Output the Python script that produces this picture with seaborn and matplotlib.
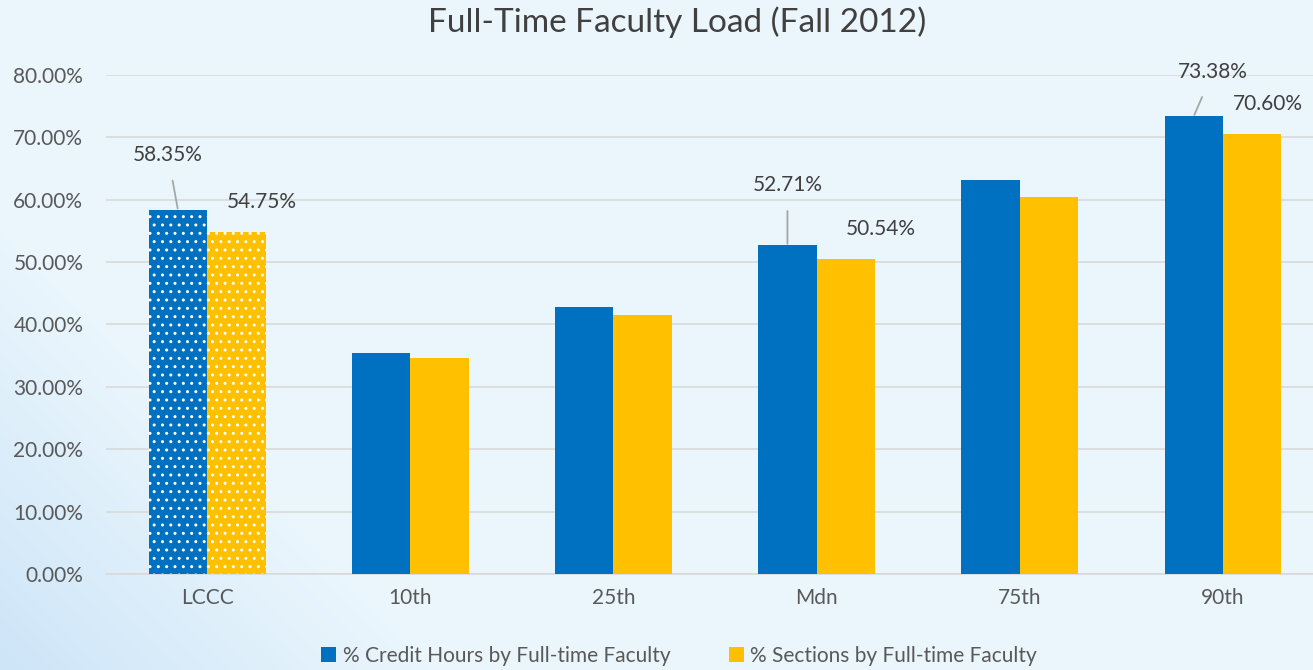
import numpy as np
import pandas as pd
import matplotlib
matplotlib.use("Agg")
import matplotlib.pyplot as plt
import seaborn as sns

categories = ["LCCC", "10th", "25th", "Mdn", "75th", "90th"]
credit_hours = [58.35, 35.5, 42.85, 52.71, 63.15, 73.38]
sections = [54.75, 34.55, 41.45, 50.54, 60.4, 70.60]
series_names = ["% Credit Hours by Full-time Faculty", "% Sections by Full-time Faculty"]
yticks = [0, 10, 20, 30, 40, 50, 60, 70, 80]

sns.set_theme(style="white")
plt.rcParams["font.family"] = ["Lato", "DejaVu Sans"]

df = pd.DataFrame({
    "cat": categories * 2,
    "val": credit_hours + sections,
    "series": [series_names[0]] * len(categories) + [series_names[1]] * len(categories),
})

fig = plt.figure(figsize=(13.13, 6.70), dpi=100)
# background
bg = fig.add_axes([0, 0, 1, 1], zorder=-10)
H, W = 335, 656
yy, xx = np.mgrid[0:H, 0:W]
base = np.array([0.925, 0.968, 0.992])
img = np.ones((H, W, 3)) * base
d = (xx / W) * 1.0 + (1 - yy / H) * 0.5
swoosh = np.clip(1 - d / 0.35, 0, 1)
img = img - swoosh[..., None] * np.array([0.12, 0.07, 0.02])
bg.imshow(img, aspect="auto", extent=[0, 1, 0, 1])
bg.axis("off")

ax = fig.add_axes([0.0804, 0.1433, 0.9284, 0.7448])
ax.set_facecolor("none")
palette = ["#0070C0", "#FFC000"]
sns.barplot(data=df, x="cat", y="val", hue="series", palette=palette,
            width=0.575, ax=ax, saturation=1, legend=True, zorder=3)

for cont in ax.containers:
    for p in cont.patches:
        p.set_linewidth(0)
    p = cont.patches[0]
    p.set_hatch("..")
    p.set_edgecolor("white")

ax.set_ylim(0, 80)
ax.set_xlim(-0.5, 5.5)
ax.set_yticks(yticks)
ax.set_yticklabels([f"{v:.2f}%" for v in yticks], fontsize=15, color="#595959")
ax.tick_params(axis="x", labelsize=15, colors="#595959", length=0, pad=10)
ax.tick_params(axis="y", length=0, pad=16)
ax.set_xlabel("")
ax.set_ylabel("")
ax.grid(axis="y", color="#D9D9D9", linewidth=1.2, zorder=0)
for s in ["top", "right", "left"]:
    ax.spines[s].set_visible(False)
ax.spines["bottom"].set_color("#D9D9D9")
ax.spines["bottom"].set_linewidth(1.2)

fig.suptitle("Full-Time Faculty Load (Fall 2012)", fontsize=24, color="#404040",
             x=677 / 1313, y=0.99)

label_specs = [
    (0, 0, (-10, 55), True),
    (1, 0, (25, 30), False),
    (0, 3, (0, 60), True),
    (1, 3, (35, 30), False),
    (0, 5, (19, 44), True),
    (1, 5, (16, 30), False),
]
for si, ci, off, line in label_specs:
    p = ax.containers[si].patches[ci]
    x = p.get_x() + p.get_width() / 2
    y = p.get_height()
    ap = dict(arrowstyle="-", color="#A6A6A6", lw=1.3, shrinkA=9, shrinkB=1) if line else None
    ax.annotate(f"{y:.2f}%", xy=(x, y), xytext=off, textcoords="offset pixels",
                ha="center", va="center", fontsize=15, color="#404040",
                arrowprops=ap, zorder=5)

leg = ax.legend(loc="center", bbox_to_anchor=(679 / 1313, 14 / 670),
                bbox_transform=fig.transFigure, ncol=2, frameon=False,
                fontsize=15, handlelength=0.75, handleheight=0.75,
                handletextpad=0.3, columnspacing=2.8)
for t in leg.get_texts():
    t.set_color("#595959")
for h in leg.legend_handles:
    h.set_hatch(None)
    h.set_linewidth(0)

fig.savefig("out.png", dpi=100)
